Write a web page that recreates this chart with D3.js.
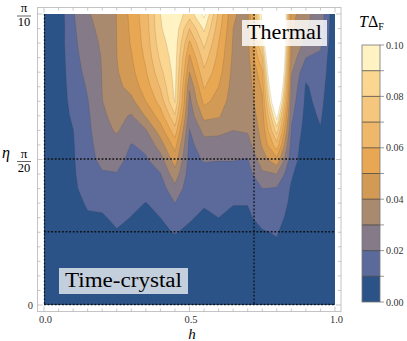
<!DOCTYPE html>
<html>
<head>
<meta charset="utf-8">
<script src="https://cdn.jsdelivr.net/npm/d3@7"></script>
<style>
  body { margin: 0; background: #fff; }
  text { font-family: "Liberation Serif", "DejaVu Serif", serif; }
</style>
</head>
<body>
<div class="chart"></div>
<script>
// grid of the scan: h along x, eta (in units of pi) along y
const hValues = [0, 0.05, 0.1, 0.15, 0.2, 0.25, 0.3, 0.35, 0.4, 0.45, 0.5,
                 0.55, 0.6, 0.65, 0.7, 0.75, 0.8, 0.85, 0.9, 0.95, 1];
const etaOverPi = [0, 0.005, 0.01, 0.015, 0.02, 0.025, 0.03, 0.035, 0.04, 0.045, 0.05,
                   0.055, 0.06, 0.065, 0.07, 0.075, 0.08, 0.085, 0.09, 0.095, 0.1];

// T*Delta_F, one list per h value, from eta = 0 up to eta = pi/10
const gapByColumn = [
  [0.001,0.001,0.001,0.002,0.002,0.002,0.002,0.002,0.003,0.003,0.003,0.003,0.003,0.003,0.003,0.003,0.003,0.003,0.003,0.003,0.003],
  [0.002,0.002,0.002,0.003,0.003,0.003,0.003,0.004,0.004,0.004,0.005,0.005,0.005,0.005,0.005,0.005,0.005,0.005,0.005,0.004,0.004],
  [0.003,0.003,0.004,0.004,0.005,0.005,0.006,0.007,0.008,0.0085,0.009,0.0093,0.0098,0.0115,0.013,0.014,0.015,0.016,0.017,0.018,0.019],
  [0.003,0.003,0.004,0.005,0.006,0.007,0.009,0.011,0.014,0.016,0.0165,0.017,0.0175,0.0183,0.0195,0.021,0.023,0.025,0.027,0.028,0.029],
  [0.003,0.003,0.004,0.005,0.006,0.007,0.0092,0.0115,0.015,0.019,0.0225,0.0245,0.027,0.0285,0.0298,0.0302,0.0303,0.0305,0.031,0.032,0.034],
  [0.003,0.004,0.005,0.006,0.008,0.0095,0.0115,0.014,0.017,0.0195,0.0235,0.027,0.031,0.033,0.035,0.037,0.039,0.0398,0.04,0.0401,0.0402],
  [0.003,0.004,0.005,0.006,0.007,0.009,0.0098,0.0115,0.013,0.015,0.017,0.0195,0.025,0.029,0.037,0.044,0.047,0.049,0.051,0.052,0.053],
  [0.003,0.004,0.005,0.006,0.007,0.008,0.009,0.0098,0.013,0.016,0.019,0.022,0.029,0.041,0.05,0.055,0.059,0.062,0.064,0.065,0.066],
  [0.003,0.004,0.005,0.006,0.007,0.009,0.01,0.012,0.015,0.0195,0.026,0.035,0.045,0.055,0.064,0.071,0.077,0.082,0.086,0.089,0.09],
  [0.003,0.004,0.005,0.007,0.008,0.0103,0.015,0.02,0.027,0.036,0.045,0.054,0.066,0.079,0.091,0.093,0.094,0.095,0.096,0.097,0.097],
  [0.003,0.004,0.005,0.006,0.008,0.009,0.0105,0.012,0.014,0.015,0.016,0.017,0.0195,0.024,0.027,0.031,0.04,0.048,0.058,0.07,0.085],
  [0.003,0.004,0.005,0.006,0.007,0.008,0.009,0.0105,0.013,0.016,0.021,0.026,0.033,0.043,0.053,0.061,0.068,0.075,0.083,0.092,0.103],
  [0.003,0.004,0.005,0.006,0.007,0.008,0.01,0.011,0.013,0.016,0.0205,0.025,0.033,0.041,0.046,0.05,0.054,0.057,0.06,0.064,0.068],
  [0.003,0.004,0.005,0.006,0.007,0.008,0.009,0.0102,0.013,0.016,0.0205,0.025,0.03,0.033,0.035,0.036,0.037,0.038,0.039,0.04,0.041],
  [0.003,0.004,0.005,0.006,0.007,0.008,0.009,0.0102,0.013,0.016,0.0195,0.026,0.031,0.033,0.034,0.035,0.035,0.036,0.036,0.037,0.037],
  [0.003,0.004,0.005,0.006,0.008,0.0095,0.012,0.015,0.02,0.028,0.036,0.041,0.043,0.045,0.048,0.052,0.058,0.07,0.085,0.1,0.105],
  [0.003,0.004,0.005,0.007,0.009,0.0105,0.013,0.016,0.019,0.03,0.047,0.066,0.085,0.105,0.13,0.15,0.17,0.18,0.19,0.2,0.2],
  [0.003,0.003,0.004,0.004,0.005,0.006,0.007,0.008,0.009,0.011,0.014,0.016,0.019,0.022,0.025,0.028,0.031,0.036,0.04,0.042,0.044],
  [0.003,0.003,0.003,0.003,0.004,0.004,0.004,0.004,0.004,0.004,0.005,0.005,0.006,0.007,0.008,0.009,0.0125,0.02,0.027,0.031,0.032],
  [0.002,0.002,0.003,0.003,0.004,0.004,0.005,0.005,0.006,0.006,0.007,0.008,0.0095,0.011,0.0125,0.014,0.016,0.018,0.022,0.025,0.026],
  [0.001,0.001,0.001,0.001,0.001,0.001,0.001,0.001,0.001,0.001,0.001,0.001,0.001,0.001,0.001,0.001,0.001,0.001,0.001,0.001,0.001]
];

const levels = [0.01, 0.02, 0.03, 0.04, 0.05, 0.06, 0.07, 0.08, 0.09, 0.1];
const bandColors = ["#2b5387", "#5b6a9b", "#857b88", "#a98a6f", "#d39a56", "#e8a752",
                    "#efb769", "#f5c67d", "#fad690", "#fff2c3", "#ffffff"];
const colorbarTicks = [0, 0.02, 0.04, 0.06, 0.08, 0.1];
const hTicks = [0, 0.5, 1];
const dashedH = [0, 0.72];            // vertical dotted lines
const dashedEta = [0, 0.025, 0.05];   // horizontal dotted lines (eta / pi)

const svg = d3.select(".chart")
    .append("svg")
    .attr("width", 407)
    .attr("height", 341);

const x = d3.scaleLinear().domain([0, 1]).range([44, 335]);
const y = d3.scaleLinear().domain([0, 0.1]).range([305, 14]);

// contour grid -> pixel scales (grid point i sits at i + 0.5 in d3.contours space)
const n = hValues.length, m = etaOverPi.length;
const gx = d3.scaleLinear().domain([0.5, n - 0.5]).range([x(hValues[0]), x(hValues[n - 1])]);
const gy = d3.scaleLinear().domain([0.5, m - 0.5]).range([y(etaOverPi[0]), y(etaOverPi[m - 1])]);

const values = new Array(n * m);
for (let j = 0; j < m; j++) {
  for (let i = 0; i < n; i++) values[j * n + i] = gapByColumn[i][j];
}

const contours = d3.contours().size([n, m]).thresholds(levels)(values);
const path = d3.geoPath(d3.geoTransform({
  point: function(px, py) { this.stream.point(gx(px), gy(py)); }
}));

svg.append("clipPath").attr("id", "plotclip")
  .append("rect")
    .attr("x", x(0)).attr("y", y(0.1))
    .attr("width", x(1) - x(0)).attr("height", y(0) - y(0.1));

const plot = svg.append("g").attr("clip-path", "url(#plotclip)");

plot.append("rect")
    .attr("x", x(0)).attr("y", y(0.1))
    .attr("width", x(1) - x(0)).attr("height", y(0) - y(0.1))
    .attr("fill", bandColors[0]);

plot.selectAll("path.band")
  .data(contours)
  .join("path")
    .attr("class", "band")
    .attr("d", path)
    .attr("fill", (d, i) => bandColors[i + 1])
    .attr("stroke", "rgba(70,50,30,0.22)")
    .attr("stroke-width", 0.6);

// frame with small ticks
const frame = svg.append("g");
frame.append("rect")
    .attr("x", 37.5).attr("y", 7.5)
    .attr("width", 303.5).attr("height", 304)
    .attr("fill", "none")
    .attr("stroke", "#c4c4c4")
    .attr("stroke-width", 1);

const minor = d3.range(0, 21).map(k => k * 0.05);
frame.selectAll("line.bt")
  .data(minor)
  .join("line")
    .attr("class", "bt")
    .attr("x1", d => x(d)).attr("x2", d => x(d))
    .attr("y1", 311.5).attr("y2", (d, k) => k % 10 === 0 ? 306.5 : 308.5)
    .attr("stroke", "#b0b0b0").attr("stroke-width", 0.7);
frame.selectAll("line.tt")
  .data(minor)
  .join("line")
    .attr("class", "tt")
    .attr("x1", d => x(d)).attr("x2", d => x(d))
    .attr("y1", 7.5).attr("y2", (d, k) => k % 10 === 0 ? 12.5 : 10.5)
    .attr("stroke", "#b0b0b0").attr("stroke-width", 0.7);
frame.selectAll("line.lt")
  .data(minor)
  .join("line")
    .attr("class", "lt")
    .attr("y1", d => y(d * 0.1)).attr("y2", d => y(d * 0.1))
    .attr("x1", 37.5).attr("x2", (d, k) => k % 10 === 0 ? 42.5 : 40.5)
    .attr("stroke", "#b0b0b0").attr("stroke-width", 0.7);
frame.selectAll("line.rt")
  .data(minor)
  .join("line")
    .attr("class", "rt")
    .attr("y1", d => y(d * 0.1)).attr("y2", d => y(d * 0.1))
    .attr("x1", 341).attr("x2", (d, k) => k % 10 === 0 ? 336 : 338)
    .attr("stroke", "#b0b0b0").attr("stroke-width", 0.7);

// dotted marker lines
svg.selectAll("line.vh")
  .data(dashedH)
  .join("line")
    .attr("class", "vh")
    .attr("x1", d => x(d) + 0.5).attr("x2", d => x(d) + 0.5)
    .attr("y1", y(0.1)).attr("y2", y(0))
    .attr("stroke", "#111").attr("stroke-width", 1.3)
    .attr("stroke-dasharray", "1.8,1.8");
svg.selectAll("line.he")
  .data(dashedEta)
  .join("line")
    .attr("class", "he")
    .attr("y1", d => y(d) - 0.5).attr("y2", d => y(d) - 0.5)
    .attr("x1", x(0)).attr("x2", x(1))
    .attr("stroke", "#111").attr("stroke-width", 1.3)
    .attr("stroke-dasharray", "1.8,1.8");

// x tick labels
svg.selectAll("text.xl")
  .data(hTicks)
  .join("text")
    .attr("class", "xl")
    .attr("x", d => x(d) + 1.5)
    .attr("y", 322.5)
    .attr("text-anchor", "middle")
    .attr("font-size", 10.5)
    .attr("fill", "#333")
    .text(d => d.toFixed(1));

svg.append("text")
    .attr("x", 192).attr("y", 339)
    .attr("text-anchor", "middle")
    .attr("font-size", 15)
    .attr("font-style", "italic")
    .text("h");

// y tick labels: 0, pi/20, pi/10
svg.append("text")
    .attr("x", 33).attr("y", y(0) + 3.5)
    .attr("text-anchor", "end")
    .attr("font-size", 10.5)
    .attr("fill", "#333")
    .text("0");

const fracs = [{v: 0.1, den: "10"}, {v: 0.05, den: "20"}];
fracs.forEach(f => {
  const ty = y(f.v);
  const g = svg.append("g");
  g.append("text").attr("x", 24).attr("y", ty - 2)
    .attr("text-anchor", "middle").attr("font-size", 13).text("π");
  g.append("line").attr("x1", 17).attr("x2", 31)
    .attr("y1", ty + 2).attr("y2", ty + 2)
    .attr("stroke", "#222").attr("stroke-width", 0.7);
  g.append("text").attr("x", 24).attr("y", ty + 12)
    .attr("text-anchor", "middle").attr("font-size", 12.5).text(f.den);
});

svg.append("text")
    .attr("x", 2).attr("y", 158)
    .attr("font-size", 16)
    .attr("font-style", "italic")
    .text("η");

// region labels
svg.append("rect")
    .attr("x", 59).attr("y", 268).attr("width", 129).attr("height", 26)
    .attr("fill", "rgba(255,255,255,0.72)");
svg.append("text")
    .attr("x", 65).attr("y", 287)
    .attr("font-size", 20)
    .attr("textLength", 117)
    .attr("lengthAdjust", "spacingAndGlyphs")
    .text("Time-crystal");

svg.append("rect")
    .attr("x", 242).attr("y", 20).attr("width", 85).attr("height", 26)
    .attr("fill", "rgba(255,255,255,0.82)");
svg.append("text")
    .attr("x", 247).attr("y", 39)
    .attr("font-size", 20)
    .attr("textLength", 75)
    .attr("lengthAdjust", "spacingAndGlyphs")
    .text("Thermal");

// colour bar
const cb = d3.scaleLinear().domain([0, 0.1]).range([302, 45]);
const bar = svg.append("g");
const bandEdges = [0].concat(levels);
bar.selectAll("rect.cbb")
  .data(bandEdges.slice(0, -1))
  .join("rect")
    .attr("class", "cbb")
    .attr("x", 362)
    .attr("y", (d, i) => cb(bandEdges[i + 1]))
    .attr("width", 18)
    .attr("height", (d, i) => cb(d) - cb(bandEdges[i + 1]))
    .attr("fill", (d, i) => bandColors[i]);
bar.selectAll("line.cbl")
  .data(levels.slice(0, -1))
  .join("line")
    .attr("class", "cbl")
    .attr("x1", 362).attr("x2", 380)
    .attr("y1", d => cb(d)).attr("y2", d => cb(d))
    .attr("stroke", "#333").attr("stroke-width", 0.7);
bar.append("rect")
    .attr("x", 362).attr("y", cb(0.1))
    .attr("width", 18).attr("height", cb(0) - cb(0.1))
    .attr("fill", "none")
    .attr("stroke", "#777").attr("stroke-width", 0.8);
bar.selectAll("line.cbt")
  .data(levels.concat([0]))
  .join("line")
    .attr("class", "cbt")
    .attr("x1", 380).attr("x2", 384)
    .attr("y1", d => cb(d)).attr("y2", d => cb(d))
    .attr("stroke", "#555").attr("stroke-width", 0.6);
bar.selectAll("text.cbl")
  .data(colorbarTicks)
  .join("text")
    .attr("class", "cbl")
    .attr("x", 386)
    .attr("y", d => cb(d) + 3.5)
    .attr("font-size", 10)
    .attr("fill", "#333")
    .text(d => d.toFixed(2));

const title = svg.append("text")
    .attr("x", 359).attr("y", 27)
    .attr("font-size", 16);
title.append("tspan").attr("font-style", "italic").text("T");
title.append("tspan").text("Δ");
title.append("tspan").attr("font-size", 10).attr("dy", 3).text("F");
</script>
</body>
</html>
